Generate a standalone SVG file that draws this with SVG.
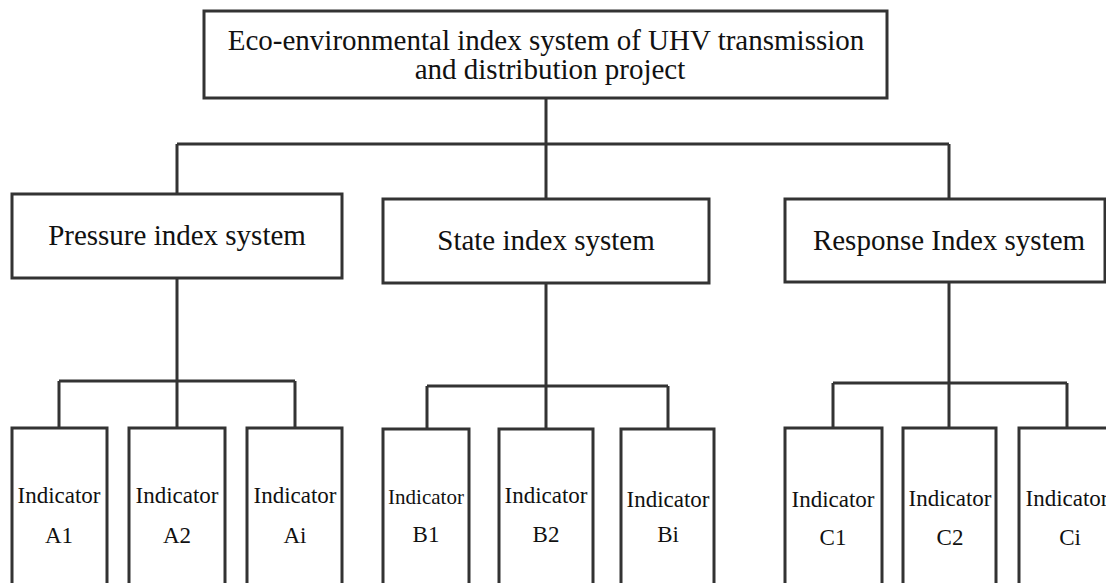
<svg xmlns="http://www.w3.org/2000/svg" width="1106" height="583" viewBox="0 0 1106 583">
<style>
.box{fill:#fff;stroke:#333;stroke-width:3}
.ln{fill:none;stroke:#333;stroke-width:3}
text{font-family:"Liberation Serif","Times New Roman",serif;fill:#111;text-anchor:middle}
.t1{font-size:29px}
.t2{font-size:23px}
</style>
<rect width="1106" height="583" fill="#fff"/>
<g id="connectors">
<path class="ln" d="M546 98V144M177 144H949M177 144V194M546 144V199M949 144V199"/>
<path class="ln" d="M177 278V381M59 381H295M59 381V428M177 381V428M295 381V428"/>
<path class="ln" d="M546 283V386M427 386H668M427 386V429M546 386V429M668 386V429"/>
<path class="ln" d="M949 282V383M833 383H1067M833 383V428M949 383V428M1067 383V428"/>
</g>
<g id="root">
<rect class="box" x="204" y="11" width="683" height="87"/>
<text class="t1" x="546" y="50">Eco-environmental index system of UHV transmission</text>
<text class="t1" x="550" y="79">and distribution project</text>
</g>
<g id="pressure">
<rect class="box" x="12" y="194" width="330" height="84"/>
<text class="t1" x="177" y="245">Pressure index system</text>
</g>
<g id="state">
<rect class="box" x="383" y="199" width="326" height="84"/>
<text class="t1" x="546" y="250">State index system</text>
</g>
<g id="response">
<rect class="box" x="785" y="199" width="320" height="83"/>
<text class="t1" x="949" y="250">Response Index system</text>
</g>
<g id="a1"><rect class="box" x="12" y="428" width="95" height="170"/><text class="t2" x="59" y="503">Indicator</text><text class="t2" x="59" y="543">A1</text></g>
<g id="a2"><rect class="box" x="129" y="428" width="96" height="170"/><text class="t2" x="177" y="503">Indicator</text><text class="t2" x="177" y="543">A2</text></g>
<g id="ai"><rect class="box" x="247" y="428" width="95" height="170"/><text class="t2" x="295" y="503">Indicator</text><text class="t2" x="295" y="543">Ai</text></g>
<g id="b1"><rect class="box" x="383" y="429" width="86" height="170"/><text class="t2" x="426" y="504" style="font-size:21px">Indicator</text><text class="t2" x="426" y="542">B1</text></g>
<g id="b2"><rect class="box" x="499" y="429" width="94" height="170"/><text class="t2" x="546" y="503">Indicator</text><text class="t2" x="546" y="542">B2</text></g>
<g id="bi"><rect class="box" x="621" y="429" width="93" height="170"/><text class="t2" x="668" y="507">Indicator</text><text class="t2" x="668" y="542">Bi</text></g>
<g id="c1"><rect class="box" x="785" y="428" width="97" height="170"/><text class="t2" x="833" y="507">Indicator</text><text class="t2" x="833" y="545">C1</text></g>
<g id="c2"><rect class="box" x="903" y="428" width="93" height="170"/><text class="t2" x="950" y="506">Indicator</text><text class="t2" x="950" y="545">C2</text></g>
<g id="ci"><rect class="box" x="1019" y="428" width="96" height="170"/><text class="t2" x="1067" y="506">Indicator</text><text class="t2" x="1070" y="545">Ci</text></g>
</svg>
